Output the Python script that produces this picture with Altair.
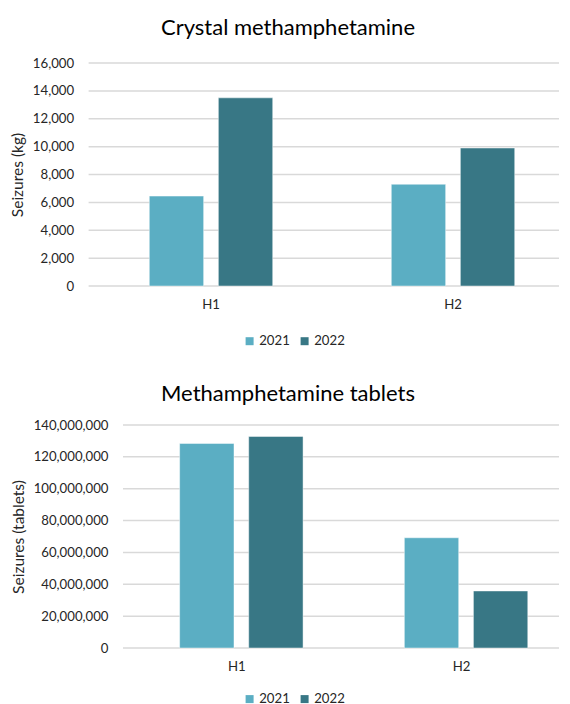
import altair as alt
import pandas as pd

halves = ["H1", "H2"]
years = ["2021", "2022"]

crystal_2021 = [6450, 7300]
crystal_2022 = [13500, 9900]

tablets_2021 = [128400000, 69200000]
tablets_2022 = [132800000, 35800000]

crystal_ticks = [0, 2000, 4000, 6000, 8000, 10000, 12000, 14000, 16000]
tablet_ticks = [0, 20000000, 40000000, 60000000, 80000000, 100000000, 120000000, 140000000]

colors = ["#5BAEC3", "#387785"]
FONT = "Lato"
TXT = "#262626"

PLOT_W = 436
PLOT_H = 223
LBL = 13.2


def make_df(v21, v22):
    rows = []
    for i, h in enumerate(halves):
        rows.append({"half": h, "year": years[0], "value": v21[i]})
        rows.append({"half": h, "year": years[1], "value": v22[i]})
    return pd.DataFrame(rows)


def panel(df, title, ytitle, ticks, left_ext, band, title_dx, title_offset, legend_x, legend_y):
    p_inner, p_outer, b_align = band
    grid_df = pd.DataFrame({"tick": ticks})
    yscale = alt.Scale(domain=[ticks[0], ticks[-1]], nice=False)
    grid = alt.Chart(grid_df).mark_rule(color="#d9d9d9", strokeWidth=1.5).encode(
        y=alt.Y("tick:Q", scale=yscale, axis=None),
        x=alt.value(-left_ext),
        x2=alt.value(PLOT_W),
    )
    bars = alt.Chart(df).mark_bar(
        stroke="#ffffff", strokeOpacity=0.45, strokeWidth=1
    ).encode(
        x=alt.X("half:N", sort=halves, title=None,
                scale=alt.Scale(paddingInner=p_inner, paddingOuter=p_outer, align=b_align),
                axis=alt.Axis(labelAngle=0, domain=False, ticks=False, labelPadding=12,
                              labelFont=FONT, labelFontSize=LBL, labelColor=TXT, grid=False)),
        xOffset=alt.XOffset("year:N", sort=years,
                            scale=alt.Scale(paddingInner=0.213, paddingOuter=0)),
        y=alt.Y("value:Q", title=ytitle, scale=yscale,
                axis=alt.Axis(values=ticks, format=",d", domain=False, ticks=False,
                              grid=False, labelOverlap=False,
                              labelPadding=15 + left_ext, labelFont=FONT, labelFontSize=LBL,
                              labelColor=TXT, titleFont=FONT, titleFontSize=15.5,
                              titleFontWeight="normal", titleColor=TXT, titlePadding=7)),
        color=alt.Color("year:N", sort=years,
                        scale=alt.Scale(domain=years, range=colors),
                        legend=alt.Legend(orient="none", legendX=legend_x, legendY=legend_y,
                                          direction="horizontal", title=None,
                                          symbolType="square", symbolSize=64,
                                          symbolStrokeWidth=0, labelFont=FONT,
                                          labelFontSize=LBL, labelColor=TXT,
                                          labelOffset=3, columnPadding=8, padding=0)),
    )
    return alt.layer(grid, bars).resolve_axis(y="independent").properties(
        width=PLOT_W, height=PLOT_H,
        title=alt.Title(title, font=FONT, fontSize=22, fontWeight="normal", color="#000000",
                        anchor="middle", dx=title_dx, offset=title_offset, baseline="alphabetic"),
    )


top = panel(make_df(crystal_2021, crystal_2022), "Crystal methamphetamine", "Seizures (kg)",
            crystal_ticks, 34.4, (0.49, 0.1458, 0.3725), -53, -0.5, 120, 271.5)
bottom = panel(make_df(tablets_2021, tablets_2022), "Methamphetamine tablets",
               "Seizures (tablets)", tablet_ticks, 0, (0.4913, 0.2158, 0.584), -53, -5, 120, 267.4)

chart = alt.concat(top, bottom, columns=1, spacing=35).resolve_scale(
    color="independent"
).resolve_legend(color="independent").properties(
    padding={"left": 2, "top": 8, "right": 0, "bottom": 0}
).configure_view(stroke=None)

chart.save("out.html", embed_options={"renderer": "svg", "actions": False})
